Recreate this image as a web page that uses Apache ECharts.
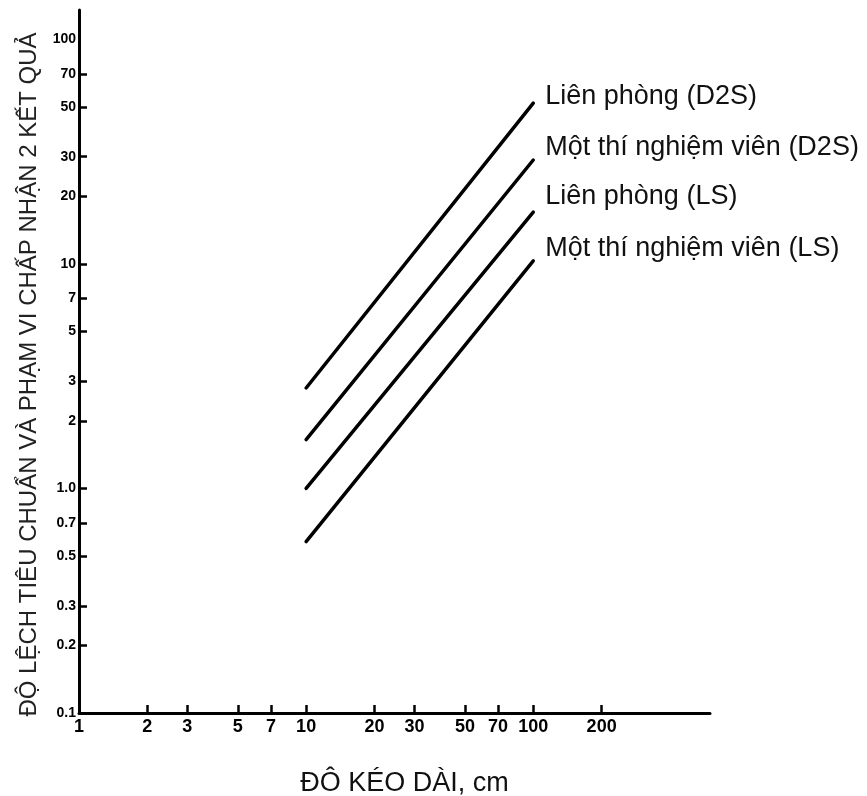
<!DOCTYPE html>
<html>
<head>
<meta charset="utf-8">
<script src="https://cdn.jsdelivr.net/npm/echarts@6/dist/echarts.min.js"></script>
<style>
  html, body { margin: 0; padding: 0; background: #fff; }
  #chart { width: 867px; height: 796px; }
</style>
</head>
<body>
<div id="chart"></div>
<script>
  // series: straight log-log lines, read at length 10 cm and 100 cm
  var lengthCm = [10, 100];
  var lienPhongD2S = [2.8, 52];
  var motTnvD2S = [1.65, 29];
  var lienPhongLS = [1.0, 17];
  var motTnvLS = [0.58, 10.3];

  var seriesNames = ['Liên phòng (D2S)', 'Một thí nghiệm viên (D2S)', 'Liên phòng (LS)', 'Một thí nghiệm viên (LS)'];

  // tick labels
  var xTicks = [1, 2, 3, 5, 7, 10, 20, 30, 50, 70, 100, 200];
  var yTicks = [0.1, 0.2, 0.3, 0.5, 0.7, 1, 2, 3, 5, 7, 10, 20, 30, 50, 70, 100];

  function pairs(ys) {
    return lengthCm.map(function (x, i) { return [x, ys[i]]; });
  }

  var labelDy = [-7, -12, -16, -12];
  var allValues = [lienPhongD2S, motTnvD2S, lienPhongLS, motTnvLS];

  var series = allValues.map(function (vals, i) {
    return {
      name: seriesNames[i],
      type: 'line',
      data: pairs(vals),
      symbol: 'none',
      lineStyle: { color: '#000', width: 3.5, cap: 'round' },
      endLabel: {
        show: true,
        formatter: '{a}',
        color: '#111',
        fontFamily: 'Liberation Sans',
        fontSize: 27,
        distance: 12,
        offset: [0, labelDy[i]]
      },
      animation: false
    };
  });

  var chart = echarts.init(document.getElementById('chart'));
  chart.setOption({
    animation: false,
    grid: { left: 79, right: 157, top: 10, bottom: 83, outerBoundsMode: 'none' },
    xAxis: {
      type: 'log',
      min: 1,
      max: 600,
      name: 'ĐÔ KÉO DÀI, cm',
      nameLocation: 'middle',
      nameGap: 57,
      nameTextStyle: {
        color: '#111', fontFamily: 'Liberation Sans', fontSize: 27,
        padding: [0, 0, 0, 20]
      },
      axisLine: { lineStyle: { color: '#000', width: 3 } },
      axisTick: {
        inside: true, length: 8,
        lineStyle: { color: '#000', width: 2.5 },
        customValues: xTicks.slice(1)
      },
      axisLabel: {
        customValues: xTicks,
        margin: 5,
        color: '#000',
        fontFamily: 'Liberation Sans',
        fontWeight: 'bold',
        fontSize: 18
      },
      splitLine: { show: false },
      minorTick: { show: false }
    },
    yAxis: {
      type: 'log',
      min: 0.1,
      max: 135,
      name: 'ĐỘ LỆCH TIÊU CHUẨN VÀ PHẠM VI CHẤP NHẬN 2 KẾT QUẢ',
      nameLocation: 'middle',
      nameGap: 33,
      nameRotate: 90,
      nameTextStyle: {
        color: '#222', fontFamily: 'Liberation Sans', fontSize: 24,
        padding: [0, 26, 0, 0]
      },
      axisLine: { lineStyle: { color: '#000', width: 3 } },
      axisTick: {
        inside: true, length: 8,
        lineStyle: { color: '#000', width: 2.5 },
        customValues: yTicks.slice(1, -1)
      },
      axisLabel: {
        customValues: yTicks,
        margin: 3,
        color: '#000',
        fontFamily: 'Liberation Sans',
        fontWeight: 'bold',
        fontSize: 14,
        formatter: function (v) {
          var n = +Number(v).toPrecision(3);
          return n === 1 ? '1.0' : String(n);
        }
      },
      splitLine: { show: false },
      minorTick: { show: false }
    },
    series: series
  });
</script>
</body>
</html>
